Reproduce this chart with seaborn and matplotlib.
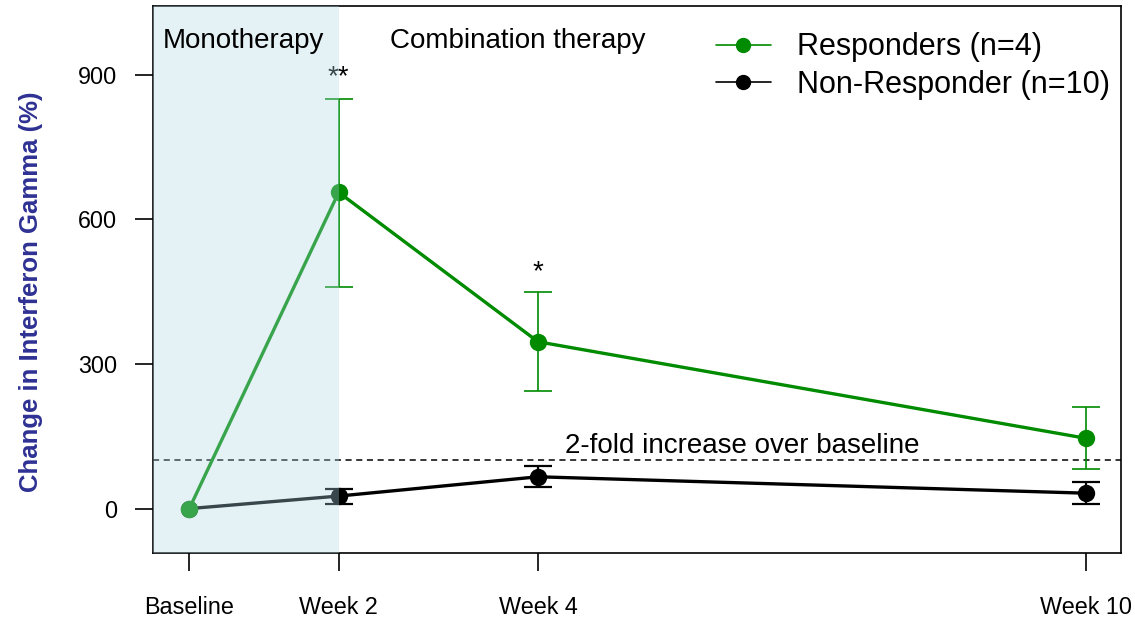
import numpy as np
import pandas as pd
import seaborn as sns
from matplotlib import pyplot as plt

# x positions of the visits on the plot (as drawn in the original figure)
visits = ["Baseline", "Week 2", "Week 4", "Week 10"]
visit_pos = [0, 2, 4.67, 12]

resp_mean = [0, 656, 346, 146]
resp_low = [0, 459, 244, 83]
resp_high = [0, 850, 450, 210]

nonresp_mean = [0, 26, 66, 32]
nonresp_low = [0, 10, 44, 10]
nonresp_high = [0, 41, 88, 56]

y_ticks = [0, 300, 600, 900]
twofold = 100

sns.set_style("white")
plt.rcParams["font.family"] = ["Liberation Sans", "DejaVu Sans"]
plt.rcParams["text.color"] = "black"
plt.rcParams["axes.labelcolor"] = "black"

green = "#008B00"
frame = pd.DataFrame({
    "pos": visit_pos * 2,
    "value": nonresp_mean + resp_mean,
    "group": ["Non-Responder (n=10)"] * 4 + ["Responders (n=4)"] * 4,
})

fig = plt.figure(figsize=(11.35, 6.22), dpi=100)
ax = fig.add_axes([0.1352, 0.111, 0.8528, 0.879])

# non-responders first so the green point sits on top at baseline
sns.lineplot(data=frame[frame.group.str.startswith("Non")], x="pos", y="value",
             color="black", lw=2.4, marker="o", markersize=12.5,
             markeredgewidth=0, ax=ax, legend=False, zorder=3)
sns.lineplot(data=frame[frame.group.str.startswith("Resp")], x="pos", y="value",
             color=green, lw=2.4, marker="o", markersize=12.5,
             markeredgewidth=0, ax=ax, legend=False, zorder=4)

nr_err = [np.subtract(nonresp_mean, nonresp_low), np.subtract(nonresp_high, nonresp_mean)]
r_err = [np.subtract(resp_mean, resp_low), np.subtract(resp_high, resp_mean)]
ax.errorbar(visit_pos[1:], nonresp_mean[1:], yerr=[e[1:] for e in nr_err],
            fmt="none", ecolor="black", elinewidth=1.6, capsize=10, capthick=1.6, zorder=3)
ax.errorbar(visit_pos[1:], resp_mean[1:], yerr=[e[1:] for e in r_err],
            fmt="none", ecolor=green, elinewidth=1.2, capsize=10, capthick=1.2, zorder=4)

ax.axhline(twofold, color="black", lw=1.1, ls=(0, (4, 3)), zorder=2)
ax.text(7.4, twofold + 2, "2-fold increase over baseline", fontsize=20,
        ha="center", va="bottom")

ax.set_xlim(-0.48, 12.48)
ax.set_ylim(-92, 1042)
ax.axvspan(-0.48, 2, color="#add8e6", alpha=0.33, lw=0, zorder=5)

ax.text(0.72, 970, "Monotherapy", fontsize=20, ha="center", va="center", zorder=6)
ax.text(4.4, 970, "Combination therapy", fontsize=20, ha="center", va="center", zorder=6)
ax.text(2, 895, "**", fontsize=20, ha="center", va="center", zorder=3)
ax.text(4.67, 490, "*", fontsize=20, ha="center", va="center", zorder=3)

ax.set_xticks(visit_pos)
ax.set_xticklabels(visits)
ax.set_yticks(y_ticks)
ax.tick_params(axis="both", direction="out", length=13, width=1.2,
               labelsize=16.8, colors="black", bottom=True, left=True)
ax.tick_params(axis="x", pad=18)
ax.tick_params(axis="y", pad=13)
ax.set_xlabel("")
ax.set_ylabel("Change in Interferon Gamma (%)", fontsize=18.5, fontweight="bold",
              color="#2E3192")
ax.yaxis.set_label_coords(-0.114, 0.477)
for s in ax.spines.values():
    s.set_color("black")
    s.set_linewidth(1.2)

handles = [
    plt.Line2D([], [], color=green, lw=1.2, marker="o", markersize=10),
    plt.Line2D([], [], color="black", lw=1.2, marker="o", markersize=10),
]
ax.legend(handles, ["Responders (n=4)", "Non-Responder (n=10)"], loc="upper right",
          bbox_to_anchor=(0.988, 0.952), frameon=False, fontsize=22,
          handlelength=1.8, handletextpad=0.85, labelspacing=0.25,
          borderpad=0, borderaxespad=0)

plt.savefig("out.png", dpi=100)
